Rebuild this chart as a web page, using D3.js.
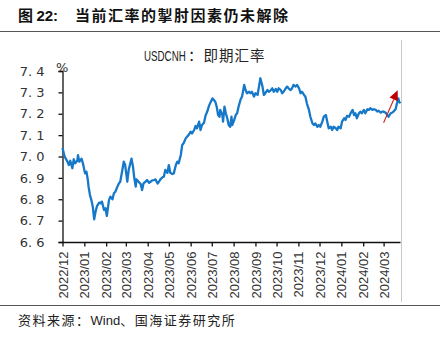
<!DOCTYPE html>
<html>
<head>
<meta charset="utf-8">
<script src="https://cdn.jsdelivr.net/npm/d3@7"></script>
<style>
  html, body { margin: 0; padding: 0; background: #fff; }
  svg { display: block; }
</style>
</head>
<body>
<svg id="chart" width="440" height="339"></svg>
<script>
// USDCNH spot rate, Dec 2022 – Mar 2024
const dates = [
  "2022-12-01","2022-12-04","2022-12-08","2022-12-10","2022-12-12","2022-12-15","2022-12-17","2022-12-19",
  "2022-12-22","2022-12-23","2022-12-25","2022-12-28","2022-12-30","2023-01-02","2023-01-04","2023-01-06",
  "2023-01-07","2023-01-09","2023-01-11","2023-01-13","2023-01-15","2023-01-17","2023-01-19","2023-01-22",
  "2023-01-24","2023-01-26","2023-01-29","2023-01-31","2023-02-02","2023-02-05","2023-02-07","2023-02-10",
  "2023-02-12","2023-02-14","2023-02-17","2023-02-19","2023-02-21","2023-02-24","2023-02-26","2023-02-28",
  "2023-03-03","2023-03-05","2023-03-09","2023-03-11","2023-03-13","2023-03-15","2023-03-16","2023-03-19",
  "2023-03-22","2023-03-24","2023-03-26","2023-03-29","2023-03-31","2023-04-03","2023-04-05","2023-04-07",
  "2023-04-10","2023-04-12","2023-04-15","2023-04-17","2023-04-19","2023-04-22","2023-04-24","2023-04-26",
  "2023-04-29","2023-05-01","2023-05-03","2023-05-06","2023-05-08","2023-05-11","2023-05-13","2023-05-15",
  "2023-05-18","2023-05-20","2023-05-22","2023-05-25","2023-05-27","2023-05-29","2023-06-01","2023-06-03",
  "2023-06-06","2023-06-08","2023-06-10","2023-06-13","2023-06-15","2023-06-17","2023-06-20","2023-06-22",
  "2023-06-25","2023-06-27","2023-06-29","2023-07-02","2023-07-04","2023-07-06","2023-07-08","2023-07-10",
  "2023-07-12","2023-07-13","2023-07-16","2023-07-17","2023-07-19","2023-07-21","2023-07-23","2023-07-25",
  "2023-07-27","2023-07-29","2023-07-30","2023-08-01","2023-08-04","2023-08-06","2023-08-08","2023-08-11",
  "2023-08-13","2023-08-16","2023-08-18","2023-08-20","2023-08-23","2023-08-25","2023-08-27","2023-08-30",
  "2023-09-01","2023-09-04","2023-09-06","2023-09-08","2023-09-11","2023-09-13","2023-09-15","2023-09-18",
  "2023-09-20","2023-09-22","2023-09-25","2023-09-27","2023-09-30","2023-10-02","2023-10-04","2023-10-07",
  "2023-10-09","2023-10-11","2023-10-14","2023-10-16","2023-10-18","2023-10-21","2023-10-23","2023-10-25",
  "2023-10-28","2023-10-30","2023-11-02","2023-11-04","2023-11-06","2023-11-09","2023-11-11","2023-11-13",
  "2023-11-16","2023-11-18","2023-11-21","2023-11-23","2023-11-25","2023-11-28","2023-11-30","2023-12-02",
  "2023-12-05","2023-12-07","2023-12-10","2023-12-12","2023-12-14","2023-12-17","2023-12-19","2023-12-21",
  "2023-12-24","2023-12-26","2023-12-28","2023-12-31","2024-01-02","2024-01-05","2024-01-07","2024-01-09",
  "2024-01-12","2024-01-14","2024-01-17","2024-01-19","2024-01-21","2024-01-23","2024-01-26","2024-01-28",
  "2024-01-30","2024-02-02","2024-02-04","2024-02-07","2024-02-09","2024-02-11","2024-02-14","2024-02-16",
  "2024-02-19","2024-02-21","2024-02-23","2024-02-26","2024-02-28","2024-03-01","2024-03-04","2024-03-06",
  "2024-03-08","2024-03-11","2024-03-13","2024-03-15","2024-03-18","2024-03-20","2024-03-22","2024-03-23",
  "2024-03-25"
];
const usdcnh = [
  7.040,7.000,6.976,6.960,6.980,6.945,6.987,6.968,
  6.980,7.006,6.976,6.990,6.968,6.921,6.929,6.890,
  6.859,6.820,6.796,6.765,6.706,6.742,6.768,6.784,
  6.781,6.789,6.750,6.758,6.722,6.796,6.812,6.800,
  6.828,6.835,6.859,6.874,6.882,6.937,6.976,6.960,
  6.882,6.937,6.990,6.955,6.898,6.859,6.893,6.882,
  6.871,6.843,6.874,6.882,6.890,6.877,6.882,6.887,
  6.890,6.893,6.874,6.882,6.893,6.903,6.906,6.937,
  6.924,6.960,6.924,6.918,6.921,6.960,6.976,6.968,
  7.007,7.054,7.062,7.085,7.093,7.100,7.116,7.108,
  7.124,7.143,7.132,7.163,7.124,7.147,7.158,7.190,
  7.214,7.237,7.252,7.272,7.264,7.256,7.233,7.194,
  7.186,7.218,7.194,7.163,7.233,7.202,7.179,7.147,
  7.139,7.186,7.147,7.163,7.194,7.202,7.233,7.268,
  7.280,7.335,7.311,7.296,7.303,7.296,7.303,7.280,
  7.296,7.288,7.327,7.366,7.327,7.288,7.296,7.311,
  7.303,7.307,7.319,7.303,7.316,7.303,7.319,7.311,
  7.296,7.303,7.319,7.327,7.319,7.311,7.319,7.335,
  7.327,7.335,7.319,7.296,7.303,7.288,7.280,7.249,
  7.218,7.186,7.155,7.147,7.155,7.139,7.147,7.139,
  7.163,7.186,7.194,7.163,7.132,7.139,7.124,7.139,
  7.132,7.124,7.139,7.132,7.163,7.179,7.171,7.190,
  7.186,7.202,7.218,7.194,7.202,7.179,7.202,7.210,
  7.202,7.218,7.202,7.221,7.218,7.226,7.218,7.221,
  7.218,7.210,7.214,7.205,7.210,7.210,7.205,7.194,
  7.186,7.202,7.205,7.210,7.221,7.249,7.272,7.256,
  7.249
];

const yTicks = [6.6, 6.7, 6.8, 6.9, 7.0, 7.1, 7.2, 7.3, 7.4];
const monthTicks = [
  "2022-12-01","2023-01-01","2023-02-01","2023-03-01","2023-04-01","2023-05-01",
  "2023-06-01","2023-07-01","2023-08-01","2023-09-01","2023-10-01","2023-11-01",
  "2023-12-01","2024-01-01","2024-02-01","2024-03-01"
];
// trend arrow: [date, value] at tail and head
const arrowFrom = ["2024-03-01", 7.158];
const arrowTo = ["2024-03-21", 7.31];

const parse = d3.timeParse("%Y-%m-%d");
const series = dates.map((d, i) => ({ date: parse(d), value: usdcnh[i] }));

const svg = d3.select("#chart");
const cjk = "'Noto Sans CJK SC', 'Noto Sans', sans-serif";

const x = d3.scaleTime()
  .domain([parse("2022-12-01"), parse("2024-03-25")])
  .range([62.5, 400.5]);
const y = d3.scaleLinear()
  .domain([6.6, 7.4])
  .range([242, 71]);

// header
const head = svg.append("text")
  .attr("x", 18).attr("y", 21)
  .attr("font-family", cjk)
  .attr("font-size", 15)
  .attr("fill", "#111");
head.append("tspan").attr("font-weight", "bold").text("图 ");
head.append("tspan").attr("font-weight", "bold")
  .attr("font-family", "'Liberation Sans', Arial, sans-serif").text("22:");
head.append("tspan").attr("x", 75).attr("font-weight", "bold")
  .attr("letter-spacing", 1.5)
  .text("当前汇率的掣肘因素仍未解除");
svg.append("line")
  .attr("x1", 0).attr("x2", 440).attr("y1", 31.5).attr("y2", 31.5)
  .attr("stroke", "#555").attr("stroke-width", 1);

// right frame edge
svg.append("line")
  .attr("x1", 401.5).attr("x2", 401.5).attr("y1", 40).attr("y2", 302)
  .attr("stroke", "#c8c8c8").attr("stroke-width", 1);

// footer
svg.append("line")
  .attr("x1", 0).attr("x2", 440).attr("y1", 305.5).attr("y2", 305.5)
  .attr("stroke", "#555").attr("stroke-width", 1);
const foot = svg.append("text")
  .attr("x", 18).attr("y", 325)
  .attr("font-size", 13)
  .attr("fill", "#222");
foot.append("tspan").attr("font-family", cjk).attr("letter-spacing", 1.5).text("资料来源：");
foot.append("tspan").attr("font-family", "'Liberation Sans', Arial, sans-serif").text("Wind");
foot.append("tspan").attr("font-family", cjk).attr("letter-spacing", 1.5).text("、国海证券研究所");

// chart title: condensed Latin code, then the CJK caption
svg.append("text")
  .attr("transform", "translate(144,61) scale(0.63,1)")
  .attr("font-family", "'Liberation Sans', sans-serif")
  .attr("font-size", 15.5)
  .attr("fill", "#222")
  .text("USDCNH");
svg.append("text")
  .attr("x", 188).attr("y", 61)
  .attr("font-family", cjk)
  .attr("font-size", 14.5)
  .attr("fill", "#222")
  .attr("letter-spacing", 1)
  .text("：即期汇率");

// y axis
const yAxis = svg.append("g")
  .attr("transform", "translate(62.5,0)")
  .call(d3.axisLeft(y).tickValues(yTicks).tickSize(4).tickPadding(14)
    .tickFormat(d => d3.format(".1f")(d).replace(".", ". ")));
yAxis.select(".domain").attr("stroke", "#111").attr("stroke-width", 1.3);
yAxis.selectAll(".tick line").attr("stroke", "#111").attr("stroke-width", 1.3);
yAxis.selectAll(".tick text")
  .attr("font-family", "'DejaVu Sans', sans-serif")
  .attr("font-size", 13)
  .attr("fill", "#333");

svg.append("text")
  .attr("x", 56).attr("y", 72)
  .attr("font-family", "'DejaVu Sans', sans-serif")
  .attr("font-size", 13)
  .attr("fill", "#333")
  .text("%");

// x axis
const xAxis = svg.append("g")
  .attr("transform", "translate(0,242.5)")
  .call(d3.axisBottom(x).tickValues(monthTicks.map(parse)).tickSize(4)
    .tickFormat(d3.timeFormat("%Y/%m")));
xAxis.select(".domain").attr("stroke", "#111").attr("stroke-width", 1.3)
  .attr("d", `M${x.range()[0]},0H${x.range()[1]}`);
xAxis.selectAll(".tick line").attr("stroke", "#111").attr("stroke-width", 1.3);
xAxis.selectAll(".tick text")
  .attr("font-family", "'Liberation Sans', Arial, sans-serif")
  .attr("font-size", 13)
  .attr("fill", "#333")
  .attr("transform", "rotate(-90)")
  .attr("text-anchor", "end")
  .attr("x", -9).attr("y", 0)
  .attr("dy", "0.35em");

// series line
svg.append("path")
  .datum(series)
  .attr("fill", "none")
  .attr("stroke", "#1678c8")
  .attr("stroke-width", 2.3)
  .attr("stroke-linejoin", "round")
  .attr("d", d3.line().x(d => x(d.date)).y(d => y(d.value)));

// trend arrow
const ax1 = x(parse(arrowFrom[0])), ay1 = y(arrowFrom[1]);
const ax2 = x(parse(arrowTo[0])), ay2 = y(arrowTo[1]);
const ang = Math.atan2(ay2 - ay1, ax2 - ax1);
const headLen = 10, headHalf = 4.5;
const bx = ax2 - headLen * Math.cos(ang), by = ay2 - headLen * Math.sin(ang);
svg.append("line")
  .attr("x1", ax1).attr("y1", ay1).attr("x2", bx).attr("y2", by)
  .attr("stroke", "#d42020").attr("stroke-width", 1.1);
svg.append("path")
  .attr("fill", "#c00000")
  .attr("d", `M${ax2},${ay2}L${bx + headHalf * Math.sin(ang)},${by - headHalf * Math.cos(ang)}L${bx - headHalf * Math.sin(ang)},${by + headHalf * Math.cos(ang)}Z`);
</script>
</body>
</html>
